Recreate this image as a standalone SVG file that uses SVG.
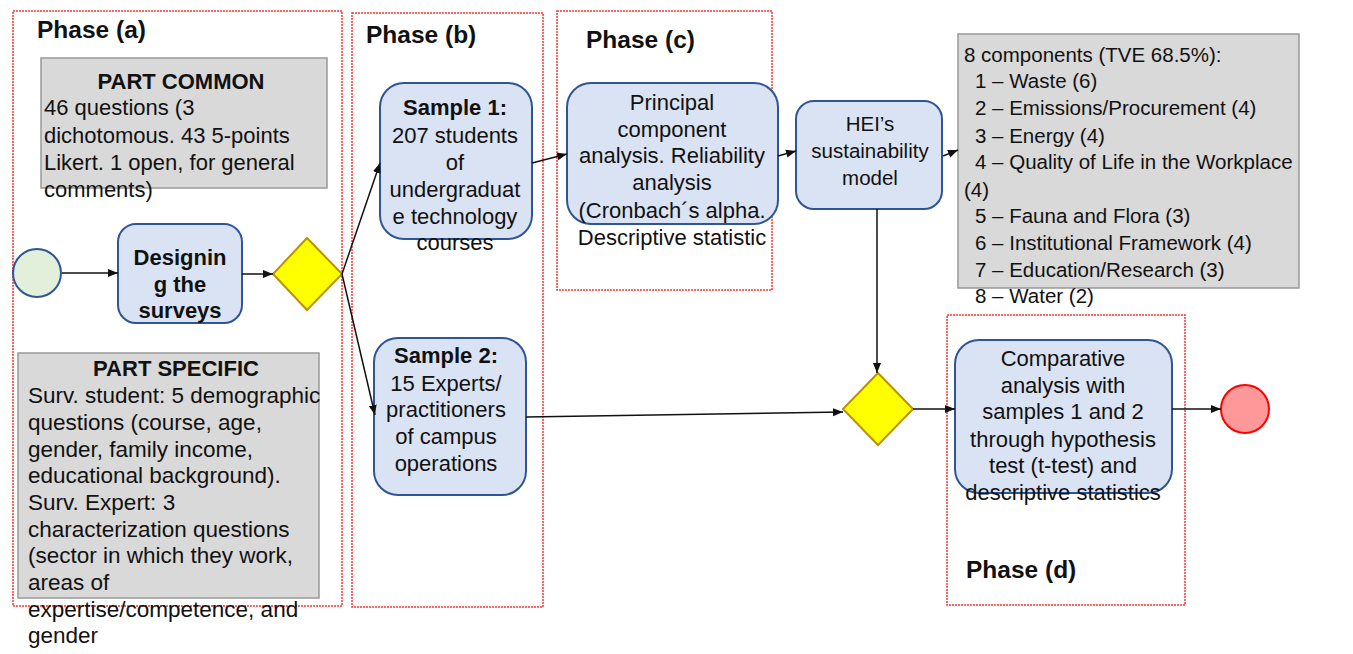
<svg xmlns="http://www.w3.org/2000/svg" width="1353" height="654" viewBox="0 0 1353 654">
<style>
text{font-family:"Liberation Sans",Arial,sans-serif;font-size:22px;fill:#111}
.b{font-weight:bold}
.m{text-anchor:middle}
.ph{font-weight:bold;font-size:24.5px}
.phase{fill:none;stroke:#f33;stroke-width:1.5;stroke-dasharray:2 1}
.grey{fill:#d9d9d9;stroke:#999;stroke-width:1.5}
.task{fill:#dae3f3;stroke:#2f5597;stroke-width:2}
.gw{fill:#ffff00;stroke:#bf9000;stroke-width:2}
.c{fill:none;stroke:#111;stroke-width:1.5}
.n{font-size:20.5px}
.w{font-size:22.5px}
</style>
<defs>
<marker id="ah" viewBox="0 0 10 10" refX="10" refY="5" markerWidth="10" markerHeight="10" markerUnits="userSpaceOnUse" orient="auto">
<path d="M0,1 L10,5 L0,9 z" fill="#111"/>
</marker>
</defs>

<g id="phases">
<rect class="phase" x="13" y="11" width="329" height="595"/>
<rect class="phase" x="352" y="13" width="191" height="594"/>
<rect class="phase" x="557" y="11" width="215" height="279"/>
<rect class="phase" x="947" y="315" width="238" height="290"/>
<text class="ph" x="37" y="38">Phase (a)</text>
<text class="ph" x="366" y="43">Phase (b)</text>
<text class="ph" x="586" y="48">Phase (c)</text>
<text class="ph" x="966" y="578">Phase (d)</text>
</g>

<g id="part-common">
<rect class="grey" x="41" y="58" width="286" height="130"/>
<text class="b m" x="181" y="89">PART COMMON</text>
<text x="44" y="115">46 questions (3</text>
<text x="44" y="143">dichotomous. 43 5-points</text>
<text x="44" y="170">Likert. 1 open, for general</text>
<text x="44" y="197">comments)</text>
</g>

<g id="part-specific">
<rect class="grey" x="18" y="353" width="301" height="245"/>
<text class="b m" x="176" y="376">PART SPECIFIC</text>
<text class="w" x="28" y="403">Surv. student: 5 demographic</text>
<text class="w" x="28" y="430">questions (course, age,</text>
<text class="w" x="28" y="457">gender, family income,</text>
<text class="w" x="28" y="483">educational background).</text>
<text class="w" x="28" y="510">Surv. Expert: 3</text>
<text class="w" x="28" y="537">characterization questions</text>
<text class="w" x="28" y="563">(sector in which they work,</text>
<text class="w" x="28" y="590">areas of</text>
<text class="w" x="28" y="617">expertise/competence, and</text>
<text class="w" x="28" y="643">gender</text>
</g>

<g id="start">
<circle cx="37" cy="273" r="24" fill="#e2efda" stroke="#2f5597" stroke-width="2"/>
</g>

<g id="designing">
<rect class="task" x="118" y="224" width="124" height="99" rx="18"/>
<text class="b m" x="180" y="265">Designin</text>
<text class="b m" x="180" y="292">g the</text>
<text class="b m" x="180" y="318">surveys</text>
</g>

<g id="gateway1">
<polygon class="gw" points="307,238 342,274 307,310 273,274"/>
</g>

<g id="sample1">
<rect class="task" x="380" y="83" width="152" height="156" rx="24"/>
<text class="b m" x="455" y="115">Sample 1:</text>
<text class="m" x="455" y="143">207 students</text>
<text class="m" x="455" y="170">of</text>
<text class="m" x="455" y="197">undergraduat</text>
<text class="m" x="455" y="224">e technology</text>
<text class="m" x="455" y="250">courses</text>
</g>

<g id="sample2">
<rect class="task" x="374" y="338" width="152" height="157" rx="24"/>
<text class="b m" x="446" y="363">Sample 2:</text>
<text class="m" x="446" y="391">15 Experts/</text>
<text class="m" x="446" y="417">practitioners</text>
<text class="m" x="446" y="444">of campus</text>
<text class="m" x="446" y="471">operations</text>
</g>

<g id="pca">
<rect class="task" x="567" y="83" width="211" height="141" rx="24"/>
<text class="m" x="672" y="110">Principal</text>
<text class="m" x="672" y="137">component</text>
<text class="m" x="672" y="163">analysis. Reliability</text>
<text class="m" x="672" y="190">analysis</text>
<text class="m" x="672" y="218">(Cronbach´s alpha.</text>
<text class="m" x="672" y="245">Descriptive statistic</text>
</g>

<g id="hei">
<rect class="task" x="796" y="101" width="146" height="108" rx="18"/>
<text class="m n" x="870" y="131">HEI’s</text>
<text class="m n" x="870" y="158">sustainability</text>
<text class="m n" x="870" y="185">model</text>
</g>

<g id="components">
<rect class="grey" x="958" y="34" width="341" height="254"/>
<text class="n" x="964" y="62">8 components (TVE 68.5%):</text>
<text class="n" x="975" y="88">1 – Waste (6)</text>
<text class="n" x="975" y="115">2 – Emissions/Procurement (4)</text>
<text class="n" x="975" y="143">3 – Energy (4)</text>
<text class="n" x="975" y="169">4 – Quality of Life in the Workplace</text>
<text class="n" x="964" y="197">(4)</text>
<text class="n" x="975" y="223">5 – Fauna and Flora (3)</text>
<text class="n" x="975" y="250">6 – Institutional Framework (4)</text>
<text class="n" x="975" y="277">7 – Education/Research (3)</text>
<text class="n" x="975" y="303">8 – Water (2)</text>
</g>

<g id="gateway2">
<polygon class="gw" points="878,373 913,409 878,445 843,409"/>
</g>

<g id="comparative">
<rect class="task" x="955" y="340" width="217" height="153" rx="24"/>
<text class="m" x="1063" y="366">Comparative</text>
<text class="m" x="1063" y="393">analysis with</text>
<text class="m" x="1063" y="419">samples 1 and 2</text>
<text class="m" x="1063" y="447">through hypothesis</text>
<text class="m" x="1063" y="473">test (t-test) and</text>
<text class="m" x="1063" y="500">descriptive statistics</text>
</g>

<g id="end">
<circle cx="1245" cy="409" r="24" fill="#ff9999" stroke="#ff0000" stroke-width="2"/>
</g>

<g id="connectors">
<line class="c" x1="62" y1="273" x2="118" y2="273" marker-end="url(#ah)"/>
<line class="c" x1="242" y1="274" x2="273" y2="274" marker-end="url(#ah)"/>
<line class="c" x1="342" y1="274" x2="380" y2="163" marker-end="url(#ah)"/>
<line class="c" x1="342" y1="274" x2="375" y2="415" marker-end="url(#ah)"/>
<line class="c" x1="532" y1="163" x2="567" y2="154" marker-end="url(#ah)"/>
<line class="c" x1="778" y1="156" x2="796" y2="151" marker-end="url(#ah)"/>
<line class="c" x1="943" y1="156" x2="958" y2="150" marker-end="url(#ah)"/>
<line class="c" x1="526" y1="417" x2="843" y2="412" marker-end="url(#ah)"/>
<line class="c" x1="877" y1="209" x2="877" y2="373" marker-end="url(#ah)"/>
<line class="c" x1="913" y1="409" x2="955" y2="409" marker-end="url(#ah)"/>
<line class="c" x1="1172" y1="409" x2="1221" y2="409" marker-end="url(#ah)"/>
</g>
</svg>
